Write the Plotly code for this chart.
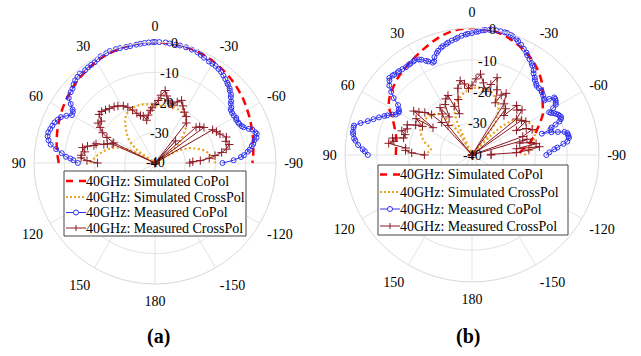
import math
import plotly.graph_objects as go

# ---------------- data: (a) ----------------
a_sim_co_theta = [90,85,80,75,70,65,60,55,50,45,40,35,30,25,20,15,10,5,0,-5,-10,-15,-20,-25,-30,-35,-40,-45,-50,-55,-60,-65,-70,-75,-80,-85,-90]
a_sim_co = [-8.2,-7.6,-7.0,-6.4,-5.8,-5.2,-4.6,-4.0,-3.4,-2.8,-2.3,-1.8,-1.3,-0.9,-0.6,-0.35,-0.15,-0.05,0,-0.05,-0.15,-0.3,-0.55,-0.9,-1.3,-1.8,-2.3,-2.9,-3.5,-4.1,-4.8,-5.4,-6.0,-6.5,-7.0,-7.4,-7.8]

a_sim_x_theta = [90,87,84,80,76,72,68,64,60,57,54,50,45,40,35,30,25,20,15,10,5,0,-5,-10,-15,-20,-25,-30,-34,-38,-42,-46,-50,-54,-57,-60,-63,-66,-70,-74,-78,-82,-86,-90]
a_sim_x = [-18.7,-19.5,-20.3,-21.6,-23,-24.5,-26.5,-29.5,-34,-40,-33,-29.5,-27,-25,-22.8,-21.3,-20.6,-20.3,-20.2,-20.3,-20.6,-21,-21,-20.8,-20.6,-20.6,-20.8,-21.3,-22,-23,-25,-27.2,-29.5,-33,-40,-34,-30.5,-28,-26,-24,-22.5,-21.5,-20.6,-20.0]

a_meas_co_theta = [90,88,87,86,84,82,80,78,76,74,72,70,68,66,64,62,60,58,57,55,53,50,48,46,44,42,40,37,35,33,31,29,27,24,22,19,17,14,12,9,7,5,3,1,0,-2,-5,-7,-10,-12,-15,-18,-21,-23,-25,-28,-30,-32,-34,-36,-38,-40,-42,-43,-45,-46,-48,-49,-51,-52,-54,-55,-57,-59,-61,-62,-64,-65,-67,-68,-70,-71,-73,-74,-76,-77,-79,-80,-82,-83,-85,-86,-88,-90]
a_meas_co = [-14.5,-13,-12,-10.5,-9,-7,-5,-4,-3.4,-3.3,-3.6,-3.9,-4.2,-4.8,-5.4,-6.8,-8.3,-8.0,-7.5,-6.0,-4.3,-3.6,-3.3,-2.6,-2.0,-1.7,-1.4,-1.6,-1.4,-1.3,-1.2,-0.8,-0.4,-0.3,-0.1,-0.2,-0.3,-0.5,-0.5,-0.4,-0.3,-0.2,-0.1,0,0,0,0,-0.2,-0.3,-0.3,-0.4,-0.6,-0.8,-1.2,-1.6,-2.0,-2.1,-2.2,-2.5,-2.8,-3.3,-3.8,-4.3,-4.6,-5.1,-5.6,-6.2,-6.8,-7.6,-8.2,-8.8,-9.4,-9.6,-9.6,-9.3,-9.6,-9.4,-9.3,-8.8,-8.4,-7.0,-6.0,-5.3,-5.0,-5.4,-6.2,-6.9,-7.5,-8.4,-9.1,-10.5,-11.5,-14,-17.7]

a_meas_x_theta = [90,88,86,84,81,78,76,74,72,70,68,66,65,64,62,60,57,55,52,49,46,43,40,36,33,29,26,23,20,17,14,11,8,5,3,0,-3,-5,-8,-10,-12,-15,-17,-20,-23,-26,-30,-34,-38,-40,-43,-46,-49,-51,-54,-57,-60,-63,-66,-70,-73,-76,-79,-81,-83,-85,-87,-88,-90]
a_meas_x = [-21,-17.5,-15.5,-15.5,-16.5,-15.5,-17,-19,-19.5,-22,-23,-24.5,-40,-24.8,-22,-20,-18.4,-17,-17.5,-15.5,-15.5,-16,-16.5,-17,-17.5,-18.4,-19.5,-21,-22.5,-23.6,-24,-25.6,-24,-22.5,-21.7,-20.5,-19.3,-17.5,-15.8,-17.5,-19,-19.5,-20,-18.5,-17.5,-19,-20.6,-21.5,-23.2,-40,-30,-40,-22,-21,-20,-40,-18,-17.2,-16.5,-14.9,-15.5,-14.7,-16,-17.7,-20,-22,-25,-27.5,-28.5]

# ---------------- data: (b) ----------------
b_sim_co_theta = [90,85,80,75,70,65,60,55,50,45,40,35,30,25,20,15,10,5,0,-5,-10,-15,-20,-25,-30,-35,-40,-45,-50,-55,-60,-65,-70,-75,-80,-85,-90]
b_sim_co = [-16,-16,-15.8,-15.2,-14,-12.3,-9.8,-8.3,-7.4,-6.5,-5.8,-5.1,-4.3,-3.4,-2.4,-1.4,-0.6,-0.2,0,-0.1,-0.4,-1.0,-1.9,-2.9,-4.0,-5.3,-6.9,-8.7,-11,-12.8,-14.2,-16.5,-18.5,-20.3,-22.2,-24.3,-25.5]

b_sim_x_theta = [90,87,84,80,76,72,66,61,55,50,45,40,36,33,30,27,24,21,18,12,5,0,-7,-15,-22,-27,-32,-36,-38,-40,-42,-44,-47,-52,-58,-63,-68,-74,-80,-85,-90]
b_sim_x = [-24.7,-26,-27,-26.6,-25,-23.7,-22.3,-21.6,-21.4,-21.6,-22.2,-23,-25.7,-29,-34,-40,-28,-24.5,-22.8,-21.5,-19.7,-19,-18.6,-18.9,-20.5,-21.9,-24.6,-28,-33,-40,-40,-32,-26,-21.5,-20,-19,-19,-19.5,-20.8,-22,-23.5]

b_meas_co_theta = [90,88,87,85,83,82,80,79,77,76,74,72,70,68,66,65,63,62,60,59,58,56,54,52,50,48,47,45,44,42,41,39,37,35,34,32,31,29,28,26,25,23,22,21,19,18,16,15,13,12,10,8,7,5,3,2,0,-2,-3,-5,-6,-8,-9,-11,-13,-15,-16,-18,-19,-21,-22,-24,-26,-28,-29,-31,-33,-34,-36,-37,-39,-40,-42,-43,-45,-47,-48,-50,-52,-53,-54,-55,-56,-57,-58,-59,-60,-61,-62,-63,-64,-65,-66,-67,-68,-69,-70,-71,-72,-73,-74,-75,-76,-77,-78,-79,-80,-82,-83,-85,-86,-88,-90]
b_meas_co = [-7.2,-6.2,-5.5,-4,-3,-2.5,-2,-1.8,-1.7,-1.7,-3.5,-5.5,-7,-8.4,-9.8,-10.5,-12,-12.8,-13.3,-13.2,-12.8,-11.9,-9.5,-7.7,-6,-5,-4.4,-4.6,-4.8,-5,-5,-5.2,-5.4,-5.3,-5.3,-5.2,-5.1,-5.6,-6,-7,-7.5,-8.4,-8.2,-7,-6,-5.5,-4.8,-4.5,-4.1,-3.8,-3.4,-3.1,-2.8,-2.3,-2,-1.8,-1.6,-1.2,-1,-0.6,-0.4,-0.2,0,0,0,0,0,-0.3,-0.5,-0.9,-1.3,-2,-2.8,-3.5,-4.1,-4.8,-5.5,-6,-7,-7.8,-8.6,-9.2,-9.8,-10.2,-10.2,-10.2,-10.4,-10.8,-11.2,-11.4,-10,-8.4,-8.4,-8.6,-8.9,-9.2,-10.5,-12.2,-11.8,-11,-10.5,-10,-9.7,-9.5,-9.8,-10.5,-12,-13.5,-14,-17,-14,-12,-10,-9.2,-9.1,-9,-9,-9.7,-11,-13,-14,-15.6,-16.6]

b_meas_x_theta = [90,88,86,84,82,80,78,76,73,71,68,65,62,60,57,55,53,51,48,45,43,41,39,36,34,31,28,25,22,20,17,14,12,9,6,3,0,-3,-6,-9,-12,-15,-18,-21,-24,-26,-29,-32,-34,-36,-39,-42,-45,-48,-51,-53,-55,-58,-61,-64,-67,-70,-72,-74,-76,-78,-80,-82,-83,-85,-87,-88,-90]
b_meas_x = [-25,-21,-19,-19,-13.5,-15,-14.4,-17.8,-18,-16.6,-18,-17.5,-19.9,-22,-19,-25,-17,-18.5,-20,-22,-26,-40,-28,-24,-22,-26,-22,-20.5,-19.8,-23.7,-26.4,-22,-18.5,-16.3,-17.5,-19,-18,-16,-14.4,-17,-19.5,-17,-14.4,-18,-22,-19,-17.8,-21,-40,-22,-24,-19,-20,-18.8,-22,-40,-21,-20,-24,-21,-19.4,-23,-40,-22,-24.5,-21,-19.5,-25.8,-18.6,-22,-26,-34,-34]

angle_tickvals = [0,30,60,90,120,150,180,210,240,270,300,330]
angle_ticktext = ["0","30","60","90","120","150","180","-150","-120","-90","-60","-30"]
radial_tickvals = [-40,-30,-20,-10,0]
radial_ticktext = ["-40","-30","-20","-10","0"]
legend_names = ["40GHz: Simulated CoPol","40GHz: Simulated CrossPol","40GHz: Measured CoPol","40GHz: Measured CrossPol"]

FONT = "Liberation Serif, Times New Roman, serif"
RED = "#ff0000"
GOLD = "#e8a41c"
BLUE = "#3030f0"
DRED = "#8c1a24"
W, H = 641, 356
R_MIN, R_MAX = -40, 0

fig = go.Figure()

def add_set(polar, sc_t, sc_r, sx_t, sx_r, mc_t, mc_r, mx_t, mx_r):
    fig.add_trace(go.Scatterpolar(theta=sc_t, r=sc_r, mode="lines", name=legend_names[0], showlegend=False,
        line=dict(color=RED, width=2.5, dash="8px,5px", shape="spline"), subplot=polar))
    fig.add_trace(go.Scatterpolar(theta=sx_t, r=sx_r, mode="lines", name=legend_names[1], showlegend=False,
        line=dict(color=GOLD, width=2.2, dash="2px,2.5px", shape="spline"), subplot=polar))
    fig.add_trace(go.Scatterpolar(theta=mc_t, r=mc_r, mode="lines+markers", name=legend_names[2], showlegend=False,
        line=dict(color=BLUE, width=1), marker=dict(symbol="circle-open", size=5, color=BLUE, line=dict(width=1, color=BLUE)),
        subplot=polar))
    fig.add_trace(go.Scatterpolar(theta=mx_t, r=mx_r, mode="lines+markers", name=legend_names[3], showlegend=False,
        line=dict(color=DRED, width=1), marker=dict(symbol="cross-thin-open", size=6, color=DRED, line=dict(width=1, color=DRED)),
        subplot=polar))

add_set("polar", a_sim_co_theta, a_sim_co, a_sim_x_theta, a_sim_x, a_meas_co_theta, a_meas_co, a_meas_x_theta, a_meas_x)
add_set("polar2", b_sim_co_theta, b_sim_co, b_sim_x_theta, b_sim_x, b_meas_co_theta, b_meas_co, b_meas_x_theta, b_meas_x)

def px(x):
    return x / W

def py(y):
    return 1 - y / H

def dom(cx, cy, R):
    return dict(x=[(cx - R) / W, (cx + R) / W], y=[(H - cy - R) / H, (H - cy + R) / H])

def polar_cfg(d):
    return dict(
        domain=d,
        bgcolor="white",
        angularaxis=dict(rotation=90, direction="counterclockwise", tickmode="array",
                         tickvals=angle_tickvals, ticktext=angle_ticktext, showline=True,
                         linecolor="#d9d9d9", linewidth=1, gridcolor="#e3e3e3",
                         ticks="outside", ticklen=5, tickcolor="rgba(0,0,0,0)",
                         tickfont=dict(family=FONT, size=14, color="black")),
        radialaxis=dict(range=[R_MIN, R_MAX], tickmode="array", tickvals=radial_tickvals, showline=False,
                        gridcolor="#e3e3e3", ticks="", showticklabels=False),
    )

shapes = []
annotations = []

# radial tick labels placed along the 80.5-degree direction, as in the original figure
def radial_labels(cx, cy, R, ang_deg=80.5):
    a = math.radians(ang_deg)
    for v, t in zip(radial_tickvals, radial_ticktext):
        rp = (v - R_MIN) / (R_MAX - R_MIN) * R
        annotations.append(dict(text=t, x=px(cx + rp * math.cos(a)), y=py(cy - rp * math.sin(a)),
                                xref="paper", yref="paper", xanchor="center", yanchor="middle",
                                showarrow=False, font=dict(family=FONT, size=14, color="black")))

# hand-drawn legends
def make_legend(box, rows, x_s0, x_s1, x_txt):
    x0, y0, x1, y1 = box
    shapes.append(dict(type="rect", xref="paper", yref="paper", x0=px(x0), x1=px(x1), y0=py(y1), y1=py(y0),
                       fillcolor="white", line=dict(color="#444444", width=1), layer="above"))
    xm = (x_s0 + x_s1) / 2
    shapes.append(dict(type="line", xref="paper", yref="paper", x0=px(x_s0), x1=px(x_s1), y0=py(rows[0]), y1=py(rows[0]),
                       line=dict(color=RED, width=2.5, dash="7px,6px"), layer="above"))
    shapes.append(dict(type="line", xref="paper", yref="paper", x0=px(x_s0), x1=px(x_s1), y0=py(rows[1]), y1=py(rows[1]),
                       line=dict(color=GOLD, width=2, dash="2px,2px"), layer="above"))
    shapes.append(dict(type="line", xref="paper", yref="paper", x0=px(x_s0), x1=px(x_s1), y0=py(rows[2]), y1=py(rows[2]),
                       line=dict(color=BLUE, width=1), layer="above"))
    shapes.append(dict(type="circle", xref="paper", yref="paper", x0=px(xm - 2.5), x1=px(xm + 2.5),
                       y0=py(rows[2] + 2.5), y1=py(rows[2] - 2.5), fillcolor="white",
                       line=dict(color=BLUE, width=1), layer="above"))
    shapes.append(dict(type="line", xref="paper", yref="paper", x0=px(x_s0), x1=px(x_s1), y0=py(rows[3]), y1=py(rows[3]),
                       line=dict(color=DRED, width=1), layer="above"))
    shapes.append(dict(type="line", xref="paper", yref="paper", x0=px(xm), x1=px(xm), y0=py(rows[3] - 3), y1=py(rows[3] + 3),
                       line=dict(color=DRED, width=1), layer="above"))
    for name, ry in zip(legend_names, rows):
        annotations.append(dict(text=name, x=px(x_txt), y=py(ry), xref="paper", yref="paper", xanchor="left",
                                yanchor="middle", showarrow=False, font=dict(family=FONT, size=14, color="black")))

radial_labels(155, 163, 121)
radial_labels(472, 155, 127)
make_legend((64, 171, 246, 236), [181, 197, 212.5, 228], 66, 86, 84)
make_legend((378, 165, 568, 235), [174.5, 192, 209, 226], 380, 400, 398)

annotations.append(dict(text="<b>(a)</b>", x=px(158), y=py(336), xref="paper", yref="paper", showarrow=False,
                        xanchor="center", yanchor="middle", font=dict(family=FONT, size=20, color="black")))
annotations.append(dict(text="<b>(b)</b>", x=px(468), y=py(336), xref="paper", yref="paper", showarrow=False,
                        xanchor="center", yanchor="middle", font=dict(family=FONT, size=20, color="black")))

fig.update_layout(
    width=W, height=H, margin=dict(l=0, r=0, t=0, b=0),
    paper_bgcolor="white", plot_bgcolor="white",
    polar=polar_cfg(dom(155, 163, 121)),
    polar2=polar_cfg(dom(472, 155, 127)),
    shapes=shapes,
    annotations=annotations,
    showlegend=False,
)

fig.write_html("out.html", config={"displayModeBar": False},
               post_script="document.body.style.margin='0';")
